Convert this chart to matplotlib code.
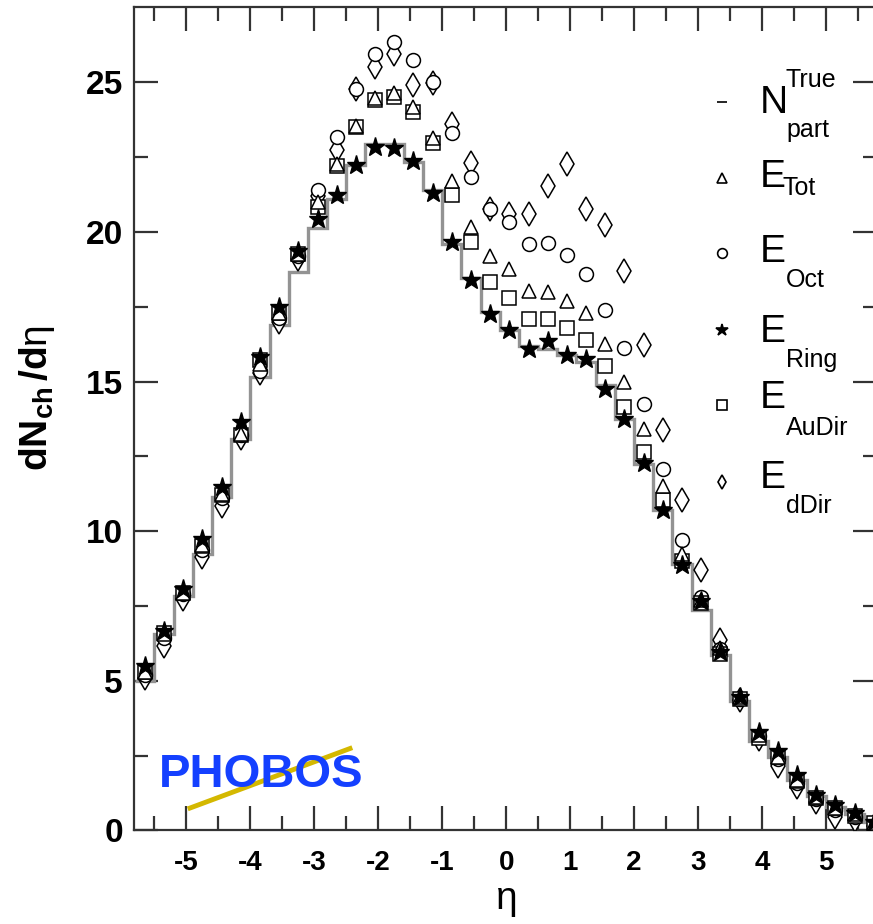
import numpy as np
import matplotlib
matplotlib.use('Agg')
import matplotlib.pyplot as plt

plt.rcParams['font.family'] = ['Liberation Sans', 'DejaVu Sans']
plt.rcParams['axes.unicode_minus'] = False
plt.rcParams['mathtext.fontset'] = 'custom'
plt.rcParams['mathtext.rm'] = 'Liberation Sans'
plt.rcParams['mathtext.bf'] = 'Liberation Sans:bold'
plt.rcParams['mathtext.it'] = 'Liberation Sans:italic'

# bin centres in eta
eta = [-5.65, -5.35, -5.05, -4.75, -4.45, -4.15, -3.85, -3.55, -3.25, -2.95,
       -2.65, -2.35, -2.05, -1.75, -1.45, -1.15, -0.85, -0.55, -0.25, 0.05,
       0.35, 0.65, 0.95, 1.25, 1.55, 1.85, 2.15, 2.45, 2.75, 3.05,
       3.35, 3.65, 3.95, 4.25, 4.55, 4.85, 5.15, 5.45, 5.75]

# N_part^True histogram
n_true = [5.0, 6.57, 7.85, 9.25, 11.14, 13.09, 15.15, 16.88, 18.66, 20.13,
          21.09, 22.23, 22.93, 22.93, 22.34, 21.41, 19.61, 18.46, 17.32, 16.71,
          16.18, 16.1, 15.9, 15.65, 14.87, 13.76, 12.26, 10.70, 8.91, 7.37,
          5.85, 4.34, 3.0, 2.45, 1.7, 1.15, 0.8, 0.55, 0.3]

e_tot = [5.3, 6.57, 7.95, 9.55, 11.26, 13.26, 15.6, 17.3, 19.25, 21.0,
         22.28, 23.53, 24.48, 24.64, 24.18, 23.15, 21.70, 20.16, 19.18, 18.77,
         18.03, 17.99, 17.69, 17.29, 16.25, 15.0, 13.43, 11.50, 9.25, 7.7,
         6.1, 4.45, 3.2, 2.45, 1.7, 1.12, 0.75, 0.55, 0.25]

e_oct = [5.2, 6.42, 7.9, 9.36, 11.1, 13.2, 15.37, 17.11, 19.2, 21.40,
         23.17, 24.79, 25.96, 26.35, 25.73, 25.01, 23.30, 21.83, 20.75, 20.33,
         19.59, 19.63, 19.22, 18.61, 17.39, 16.12, 14.24, 12.09, 9.72, 7.8,
         6.05, 4.4, 3.15, 2.4, 1.6, 1.05, 0.7, 0.45, 0.2]

e_ring = [5.51, 6.68, 8.08, 9.75, 11.47, 13.65, 15.82, 17.49, 19.35, 20.44,
          21.22, 22.25, 22.84, 22.80, 22.36, 21.30, 19.68, 18.39, 17.27, 16.73,
          16.10, 16.35, 15.88, 15.76, 14.75, 13.76, 12.29, 10.70, 8.86, 7.68,
          5.97, 4.45, 3.3, 2.67, 1.84, 1.2, 0.85, 0.6, 0.3]

e_audir = [5.3, 6.6, 7.95, 9.5, 11.2, 13.2, 15.71, 17.28, 19.27, 20.85,
           22.2, 23.5, 24.4, 24.5, 24.0, 22.96, 21.25, 19.66, 18.33, 17.80,
           17.10, 17.08, 16.80, 16.38, 15.52, 14.15, 12.64, 11.03, 9.02, 7.6,
           5.9, 4.4, 3.1, 2.45, 1.65, 1.1, 0.75, 0.5, 0.25]

e_ddir = [5.1, 6.18, 7.74, 9.13, 10.84, 13.1, 15.3, 17.0, 19.1, 21.2,
          22.73, 24.79, 25.51, 25.96, 24.9, 24.99, 23.62, 22.29, 20.78, 20.61,
          20.61, 21.52, 22.26, 20.78, 20.22, 18.69, 16.22, 13.37, 11.03, 8.71,
          6.37, 4.35, 3.05, 2.17, 1.45, 0.95, 0.44, 0.35, 0.15]

x_ticks = [-5, -4, -3, -2, -1, 0, 1, 2, 3, 4, 5]
y_ticks = [0, 5, 10, 15, 20, 25]

fig = plt.figure(figsize=(8.73, 9.24), dpi=100)
ax = fig.add_axes([0.1535, 0.1012, 0.8511, 0.8907])

# histogram of true Npart
eta_a = np.array(eta)
edges = np.append(eta_a - 0.15, eta_a[-1] + 0.15)
ax.stairs(n_true, edges, baseline=None, color='#939393', lw=2.4, zorder=2)

open_kw = dict(ls='none', mfc='white', mec='black', mew=1.1, zorder=3)
ax.plot(eta, e_ddir, marker='d', ms=12, **open_kw)
ax.plot(eta, e_oct, marker='o', ms=10, **open_kw)
ax.plot(eta, e_audir, marker='s', ms=9.5, **open_kw)
ax.plot(eta, e_tot, marker='^', ms=10, **open_kw)
ax.plot(eta, e_ring, marker='*', ms=14, ls='none', color='black', zorder=4)

ax.set_xlim(-5.82, 5.8)
ax.set_ylim(0, 27.5)
ax.set_xticks(x_ticks)
ax.set_xticks(np.arange(-5.5, 5.8, 1.0), minor=True)
ax.set_yticks(y_ticks)
ax.set_yticks(np.arange(2.5, 27.5, 5.0), minor=True)
ax.tick_params(which='both', direction='in', top=True, right=True, width=1.6, color='#333333')
ax.tick_params(which='major', length=17)
ax.tick_params(which='minor', length=10)
ax.tick_params(axis='x', which='major', pad=14)
ax.tick_params(axis='y', which='major', pad=8)
for lab in ax.get_xticklabels():
    lab.set_fontsize(20)
    lab.set_fontweight('bold')
for lab in ax.get_yticklabels():
    lab.set_fontsize(24)
    lab.set_fontweight('bold')
for sp in ax.spines.values():
    sp.set_linewidth(1.6)
    sp.set_color('#333333')

ax.set_xlabel(r'$\mathrm{\eta}$', fontsize=28, labelpad=5)
ax.set_ylabel(r'$\mathbf{dN}_{\mathbf{ch}}\,\mathbf{/d}\mathrm{\eta}$', fontsize=28)
ax.yaxis.set_label_coords(-0.103, 0.526)

# legend drawn by hand
lx = 0.791
leg = [('_', 0.8855, 'k'), ('^', 0.7925, 'w'), ('o', 0.7013, 'w'),
       ('*', 0.6081, 'k'), ('s', 0.517, 'w'), ('d', 0.4238, 'w')]
for m, yy, fc in leg:
    ax.plot([lx], [yy], marker=m, ms=7 if m != '*' else 9, mfc=fc,
            mec='black', mew=1.2, ls='none', transform=ax.transAxes, clip_on=False)

tx, sx = 0.8425, 0.8775
ax.text(tx, 0.8715, 'N', fontsize=28, va='baseline', transform=ax.transAxes)
ax.text(sx, 0.9034, 'True', fontsize=18, va='baseline', transform=ax.transAxes)
ax.text(sx, 0.8427, 'part', fontsize=18, va='baseline', transform=ax.transAxes)
labels = [(0.7813, 0.7727, 'Tot', 0.8722), (0.6908, 0.6604, 'Oct', sx),
          (0.5936, 0.5632, 'Ring', sx), (0.5134, 0.4806, 'AuDir', sx),
          (0.4162, 0.3858, 'dDir', sx)]
for ey, sy, sub, xs in labels:
    ax.text(tx, ey, 'E', fontsize=28, va='baseline', transform=ax.transAxes)
    ax.text(xs, sy, sub, fontsize=18, va='baseline', transform=ax.transAxes)

# PHOBOS logo (approximation)
ax.plot([0.0754, 0.2907], [0.0273, 0.0996], color='#d4b800', lw=3.5,
        transform=ax.transAxes, zorder=5)
ax.text(0.033, 0.0674, 'PHOBOS', fontsize=34, color='#1440ff', fontweight='heavy',
        va='center', ha='left', transform=ax.transAxes, zorder=6)

fig.savefig('out.png', dpi=100)
